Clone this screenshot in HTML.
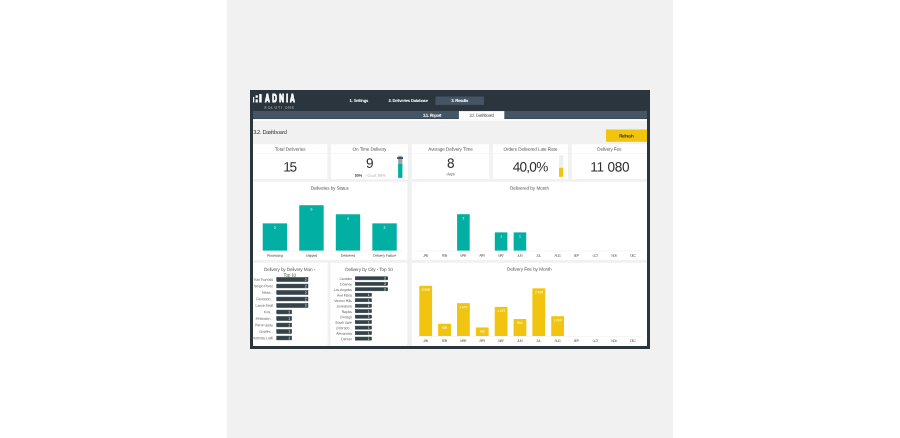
<!DOCTYPE html>
<html lang="en"><head><meta charset="utf-8"><title>Adnia Solutions - 3.2. Dashboard</title>
<style>
html,body{margin:0;padding:0;background:#fff;width:900px;height:438px;overflow:hidden}
svg{display:block;font-family:'Liberation Sans',sans-serif}
</style></head><body>
<svg width="900" height="438" viewBox="0 0 900 438" font-family="'Liberation Sans', sans-serif">
<rect x="227.00" y="0.00" width="446.00" height="438.00" fill="#f1f1f1" />
<rect x="250.00" y="90.00" width="400.00" height="259.00" fill="#2b353e" />
<rect x="253.00" y="110.90" width="394.00" height="8.20" fill="#455564" />
<rect x="253.00" y="119.10" width="394.00" height="226.90" fill="#f1f1f1" />
<rect x="253.00" y="118.10" width="394.00" height="1.00" fill="#384a5a" />
<rect x="253.00" y="119.10" width="394.00" height="1.70" fill="#fcfcfc" />
<rect x="253.00" y="96.90" width="1.20" height="5.60" fill="#fff" />
<rect x="255.60" y="95.30" width="2.20" height="2.50" fill="#fff" />
<rect x="255.60" y="99.40" width="2.20" height="3.10" fill="#fff" />
<rect x="259.20" y="94.00" width="2.50" height="8.50" fill="#fff" />
<text transform="translate(0 102) scale(0.62 1)" x="427.52 439.13 450.42 461.55 467.84" font-size="10.6" font-weight="bold" fill="#fff" stroke="#fff" stroke-width="1.0">ADNIA</text>
<text transform="translate(0 108.6) rotate(0.03)" x="264.30 267.71 271.12 274.53 277.94 281.35 284.76 288.17 291.58" font-size="3.5" fill="#c3c9ce">SOLUTIONS</text>
<text transform="translate(358.75 102.10) rotate(0.03)" font-size="4.25" fill="#fff" text-anchor="middle" font-weight="bold" letter-spacing="-0.299" word-spacing="0.299">1. Settings</text>
<text transform="translate(408.06 102.10) rotate(0.03)" font-size="4.25" fill="#fff" text-anchor="middle" font-weight="bold" letter-spacing="-0.278" word-spacing="0.278">2. Deliveries Database</text>
<rect x="435.40" y="96.50" width="48.60" height="8.40" fill="#455564" />
<text transform="translate(459.60 102.10) rotate(0.03)" font-size="4.25" fill="#fff" text-anchor="middle" font-weight="bold" letter-spacing="-0.397" word-spacing="0.397">3. Results</text>
<text transform="translate(431.99 116.70) rotate(0.03)" font-size="4.25" fill="#fff" text-anchor="middle" font-weight="bold" letter-spacing="-0.418" word-spacing="0.418">3.1. Report</text>
<rect x="458.90" y="111.10" width="45.40" height="8.30" fill="#fff" />
<text transform="translate(481.38 116.80) rotate(0.03)" font-size="4.4" fill="#444" text-anchor="middle" letter-spacing="-0.441" word-spacing="0.441">3.2. Dashboard</text>
<text transform="translate(253.20 134.00) rotate(0.03)" font-size="5.8" fill="#3a3a3a" text-anchor="start" letter-spacing="-0.488" word-spacing="0.488">3.2. Dashboard</text>
<rect x="606.00" y="129.50" width="41.00" height="12.30" fill="#f1c50f" />
<text transform="translate(626.30 137.50) rotate(0.03)" font-size="4.6" fill="#3a3a20" text-anchor="middle" font-weight="bold" letter-spacing="-0.400">Refresh</text>
<rect x="253.00" y="144.30" width="74.40" height="34.80" fill="#fff" />
<rect x="253.00" y="153.00" width="74.40" height="0.50" fill="#f1f1f1" />
<text transform="translate(290.16 150.75) rotate(0.03)" font-size="4.7" fill="#555" text-anchor="middle" letter-spacing="-0.076" word-spacing="0.076">Total Deliveries</text>
<rect x="331.00" y="144.30" width="77.00" height="34.80" fill="#fff" />
<rect x="331.00" y="153.00" width="77.00" height="0.50" fill="#f1f1f1" />
<text transform="translate(369.42 150.75) rotate(0.03)" font-size="4.7" fill="#555" text-anchor="middle" letter-spacing="-0.157" word-spacing="0.157">On Time Delivery</text>
<rect x="411.80" y="144.30" width="77.50" height="34.80" fill="#fff" />
<rect x="411.80" y="153.00" width="77.50" height="0.50" fill="#f1f1f1" />
<text transform="translate(450.48 150.75) rotate(0.03)" font-size="4.7" fill="#555" text-anchor="middle" letter-spacing="-0.139" word-spacing="0.139">Average Delivery Time</text>
<rect x="492.80" y="144.30" width="75.20" height="34.80" fill="#fff" />
<rect x="492.80" y="153.00" width="75.20" height="0.50" fill="#f1f1f1" />
<text transform="translate(530.33 150.75) rotate(0.03)" font-size="4.7" fill="#555" text-anchor="middle" letter-spacing="-0.146" word-spacing="0.146">Orders Delivered Late Rate</text>
<rect x="571.80" y="144.30" width="75.20" height="34.80" fill="#fff" />
<rect x="571.80" y="153.00" width="75.20" height="0.50" fill="#f1f1f1" />
<text transform="translate(609.30 150.75) rotate(0.03)" font-size="4.7" fill="#555" text-anchor="middle" letter-spacing="-0.208" word-spacing="0.208">Delivery Fee</text>
<text transform="translate(289.49 171.60) rotate(0.03)" font-size="13.6" fill="#2d2d2d" text-anchor="middle" letter-spacing="-1.427">15</text>
<text transform="translate(369.90 167.80) rotate(0.03)" font-size="13.6" fill="#2d2d2d" text-anchor="middle">9</text>
<text transform="translate(358.40 176.80) rotate(0.03)" font-size="3.9" fill="#444" text-anchor="middle" font-weight="bold" letter-spacing="-0.203">50%</text>
<text transform="translate(375.50 176.80) rotate(0.03)" font-size="3.9" fill="#ababab" text-anchor="middle" letter-spacing="-0.010" word-spacing="0.010">/ Goal: 90%</text>
<rect x="398.10" y="158.50" width="4.30" height="5.20" fill="#aaaaaa" />
<rect x="399.20" y="158.50" width="0.50" height="5.20" fill="#8e8e8e" />
<rect x="400.80" y="158.50" width="0.50" height="5.20" fill="#8e8e8e" />
<rect x="398.10" y="163.40" width="4.30" height="0.40" fill="#c9a9a9" />
<rect x="398.10" y="163.70" width="4.30" height="14.20" fill="#01b0a3" />
<rect x="398.30" y="155.50" width="3.80" height="1.40" fill="#cdcdcd" rx="0.5"/>
<rect x="397.00" y="156.70" width="6.20" height="2.40" fill="#44525f" rx="1.2"/>
<text transform="translate(450.80 167.80) rotate(0.03)" font-size="13.6" fill="#2d2d2d" text-anchor="middle">8</text>
<text transform="translate(450.69 175.20) rotate(0.03)" font-size="3.9" fill="#555" text-anchor="middle" letter-spacing="-0.013">days</text>
<text transform="translate(530.12 171.60) rotate(0.03)" font-size="13.6" fill="#2d2d2d" text-anchor="middle" letter-spacing="-0.766">40,0%</text>
<rect x="559.00" y="155.20" width="4.30" height="12.50" fill="#efefef" />
<rect x="559.00" y="167.70" width="4.30" height="9.10" fill="#f1c50f" />
<text transform="translate(609.64 171.60) rotate(0.03)" font-size="13.6" fill="#2d2d2d" text-anchor="middle" letter-spacing="-0.322" word-spacing="0.322">11 080</text>
<rect x="253.00" y="181.80" width="154.30" height="78.00" fill="#fff" />
<text transform="translate(329.70 189.80) rotate(0.03)" font-size="4.7" fill="#555" text-anchor="middle" letter-spacing="-0.202" word-spacing="0.202">Deliveries by Status</text>
<rect x="257.00" y="250.70" width="146.00" height="0.50" fill="#ebebeb" />
<rect x="262.70" y="223.36" width="24.40" height="27.24" fill="#01b0a3" />
<text transform="translate(274.90 228.76) rotate(0.03)" font-size="3.5" fill="#fff" text-anchor="middle">3</text>
<text transform="translate(274.80 256.80) rotate(0.03)" font-size="3.6" fill="#4c4c4c" text-anchor="middle" letter-spacing="-0.201">Processing</text>
<rect x="299.25" y="205.20" width="24.40" height="45.40" fill="#01b0a3" />
<text transform="translate(311.45 210.60) rotate(0.03)" font-size="3.5" fill="#fff" text-anchor="middle">5</text>
<text transform="translate(311.33 256.80) rotate(0.03)" font-size="3.6" fill="#4c4c4c" text-anchor="middle" letter-spacing="-0.235">Shipped</text>
<rect x="335.80" y="214.28" width="24.40" height="36.32" fill="#01b0a3" />
<text transform="translate(348.00 219.68) rotate(0.03)" font-size="3.5" fill="#fff" text-anchor="middle">4</text>
<text transform="translate(347.95 256.80) rotate(0.03)" font-size="3.6" fill="#4c4c4c" text-anchor="middle" letter-spacing="-0.101">Delivered</text>
<rect x="372.35" y="223.36" width="24.40" height="27.24" fill="#01b0a3" />
<text transform="translate(384.55 228.76) rotate(0.03)" font-size="3.5" fill="#fff" text-anchor="middle">3</text>
<text transform="translate(384.49 256.80) rotate(0.03)" font-size="3.6" fill="#4c4c4c" text-anchor="middle" letter-spacing="-0.122" word-spacing="0.122">Delivery Failure</text>
<rect x="411.80" y="181.80" width="235.20" height="78.00" fill="#fff" />
<text transform="translate(529.46 189.80) rotate(0.03)" font-size="4.7" fill="#555" text-anchor="middle" letter-spacing="-0.079" word-spacing="0.079">Delivered by Month</text>
<rect x="416.70" y="250.70" width="226.00" height="0.50" fill="#ebebeb" />
<text transform="translate(425.37 256.70) rotate(0.03)" font-size="3.5" fill="#626262" text-anchor="middle" letter-spacing="-0.661">JAN</text>
<text transform="translate(444.21 256.70) rotate(0.03)" font-size="3.5" fill="#626262" text-anchor="middle" letter-spacing="-0.681">FEB</text>
<text transform="translate(463.01 256.70) rotate(0.03)" font-size="3.5" fill="#626262" text-anchor="middle" letter-spacing="-0.778">MAR</text>
<rect x="457.10" y="214.20" width="12.60" height="36.40" fill="#01b0a3" />
<text transform="translate(463.40 219.30) rotate(0.03)" font-size="3.4" fill="#fff" text-anchor="middle">2</text>
<text transform="translate(481.89 256.70) rotate(0.03)" font-size="3.5" fill="#626262" text-anchor="middle" letter-spacing="-0.720">APR</text>
<text transform="translate(500.73 256.70) rotate(0.03)" font-size="3.5" fill="#626262" text-anchor="middle" letter-spacing="-0.732">MAY</text>
<rect x="494.80" y="232.40" width="12.60" height="18.20" fill="#01b0a3" />
<text transform="translate(501.10 237.50) rotate(0.03)" font-size="3.4" fill="#fff" text-anchor="middle">1</text>
<text transform="translate(519.61 256.70) rotate(0.03)" font-size="3.5" fill="#626262" text-anchor="middle" letter-spacing="-0.681">JUN</text>
<rect x="513.65" y="232.40" width="12.60" height="18.20" fill="#01b0a3" />
<text transform="translate(519.95 237.50) rotate(0.03)" font-size="3.4" fill="#fff" text-anchor="middle">1</text>
<text transform="translate(538.49 256.70) rotate(0.03)" font-size="3.5" fill="#626262" text-anchor="middle" letter-spacing="-0.622">JUL</text>
<text transform="translate(557.27 256.70) rotate(0.03)" font-size="3.5" fill="#626262" text-anchor="middle" letter-spacing="-0.758">AUG</text>
<text transform="translate(576.15 256.70) rotate(0.03)" font-size="3.5" fill="#626262" text-anchor="middle" letter-spacing="-0.700">SEP</text>
<text transform="translate(594.98 256.70) rotate(0.03)" font-size="3.5" fill="#626262" text-anchor="middle" letter-spacing="-0.739">OCT</text>
<text transform="translate(613.82 256.70) rotate(0.03)" font-size="3.5" fill="#626262" text-anchor="middle" letter-spacing="-0.758">NOV</text>
<text transform="translate(632.68 256.70) rotate(0.03)" font-size="3.5" fill="#626262" text-anchor="middle" letter-spacing="-0.739">DEC</text>
<rect x="253.00" y="262.80" width="74.50" height="82.90" fill="#fff" />
<text transform="translate(289.52 271.00) rotate(0.03)" font-size="4.7" fill="#555" text-anchor="middle" letter-spacing="-0.164" word-spacing="0.164">Delivery by Delivery Man -</text>
<text transform="translate(289.61 276.70) rotate(0.03)" font-size="4.7" fill="#555" text-anchor="middle" letter-spacing="-0.378" word-spacing="0.378">Top 10</text>
<rect x="276.80" y="277.65" width="31.10" height="3.70" fill="#33434a" stroke="#263238" stroke-width="0.6"/>
<text transform="translate(305.60 280.75) rotate(0.03)" font-size="3.5" fill="#fff" text-anchor="middle">2</text>
<text transform="translate(272.88 280.80) rotate(0.03)" font-size="3.5" fill="#606060" text-anchor="end" letter-spacing="-0.125" word-spacing="0.125">Yuki Tsunoda</text>
<rect x="276.80" y="284.15" width="31.10" height="3.70" fill="#33434a" stroke="#263238" stroke-width="0.6"/>
<text transform="translate(305.60 287.25) rotate(0.03)" font-size="3.5" fill="#fff" text-anchor="middle">2</text>
<text transform="translate(272.88 287.30) rotate(0.03)" font-size="3.5" fill="#606060" text-anchor="end" letter-spacing="-0.121" word-spacing="0.121">Sergio Perez</text>
<rect x="276.80" y="290.65" width="31.10" height="3.70" fill="#33434a" stroke="#263238" stroke-width="0.6"/>
<text transform="translate(305.60 293.75) rotate(0.03)" font-size="3.5" fill="#fff" text-anchor="middle">2</text>
<text transform="translate(272.91 293.80) rotate(0.03)" font-size="3.5" fill="#606060" text-anchor="end" letter-spacing="-0.088">Nikita...</text>
<rect x="276.80" y="297.15" width="31.10" height="3.70" fill="#33434a" stroke="#263238" stroke-width="0.6"/>
<text transform="translate(305.60 300.25) rotate(0.03)" font-size="3.5" fill="#fff" text-anchor="middle">2</text>
<text transform="translate(272.89 300.30) rotate(0.03)" font-size="3.5" fill="#606060" text-anchor="end" letter-spacing="-0.107">Fernando...</text>
<rect x="276.80" y="303.65" width="31.10" height="3.70" fill="#33434a" stroke="#263238" stroke-width="0.6"/>
<text transform="translate(305.60 306.75) rotate(0.03)" font-size="3.5" fill="#fff" text-anchor="middle">2</text>
<text transform="translate(272.89 306.80) rotate(0.03)" font-size="3.5" fill="#606060" text-anchor="end" letter-spacing="-0.111" word-spacing="0.111">Lance Stroll</text>
<rect x="276.80" y="310.15" width="14.70" height="3.70" fill="#33434a" stroke="#263238" stroke-width="0.6"/>
<text transform="translate(289.20 313.25) rotate(0.03)" font-size="3.5" fill="#fff" text-anchor="middle">1</text>
<text transform="translate(272.90 313.30) rotate(0.03)" font-size="3.5" fill="#606060" text-anchor="end" letter-spacing="-0.097">Kimi...</text>
<rect x="276.80" y="316.65" width="14.70" height="3.70" fill="#33434a" stroke="#263238" stroke-width="0.6"/>
<text transform="translate(289.20 319.75) rotate(0.03)" font-size="3.5" fill="#fff" text-anchor="middle">1</text>
<text transform="translate(272.90 319.80) rotate(0.03)" font-size="3.5" fill="#606060" text-anchor="end" letter-spacing="-0.101">Sebastian...</text>
<rect x="276.80" y="323.15" width="14.70" height="3.70" fill="#33434a" stroke="#263238" stroke-width="0.6"/>
<text transform="translate(289.20 326.25) rotate(0.03)" font-size="3.5" fill="#fff" text-anchor="middle">1</text>
<text transform="translate(272.88 326.30) rotate(0.03)" font-size="3.5" fill="#606060" text-anchor="end" letter-spacing="-0.116" word-spacing="0.116">Pierre Gasly</text>
<rect x="276.80" y="329.65" width="14.70" height="3.70" fill="#33434a" stroke="#263238" stroke-width="0.6"/>
<text transform="translate(289.20 332.75) rotate(0.03)" font-size="3.5" fill="#fff" text-anchor="middle">1</text>
<text transform="translate(272.90 332.80) rotate(0.03)" font-size="3.5" fill="#606060" text-anchor="end" letter-spacing="-0.100">Charles...</text>
<rect x="276.80" y="336.15" width="14.70" height="3.70" fill="#33434a" stroke="#263238" stroke-width="0.6"/>
<text transform="translate(289.20 339.25) rotate(0.03)" font-size="3.5" fill="#fff" text-anchor="middle">1</text>
<text transform="translate(272.90 339.30) rotate(0.03)" font-size="3.5" fill="#606060" text-anchor="end" letter-spacing="-0.101" word-spacing="0.101">Nicholas Latifi</text>
<rect x="330.50" y="262.80" width="76.80" height="82.90" fill="#fff" />
<text transform="translate(368.91 271.00) rotate(0.03)" font-size="4.7" fill="#555" text-anchor="middle" letter-spacing="-0.171" word-spacing="0.171">Delivery by City - Top 10</text>
<rect x="355.40" y="276.80" width="32.30" height="3.00" fill="#33434a" stroke="#263238" stroke-width="0.6"/>
<text transform="translate(385.00 279.50) rotate(0.03)" font-size="3.4" fill="#fff" text-anchor="middle">2</text>
<text transform="translate(351.87 280.00) rotate(0.03)" font-size="3.5" fill="#606060" text-anchor="end" letter-spacing="-0.132">Camden</text>
<rect x="355.40" y="282.28" width="32.30" height="3.00" fill="#33434a" stroke="#263238" stroke-width="0.6"/>
<text transform="translate(385.00 284.98) rotate(0.03)" font-size="3.4" fill="#fff" text-anchor="middle">2</text>
<text transform="translate(351.87 285.48) rotate(0.03)" font-size="3.5" fill="#606060" text-anchor="end" letter-spacing="-0.126">Downey</text>
<rect x="355.40" y="287.76" width="32.30" height="3.00" fill="#33434a" stroke="#263238" stroke-width="0.6"/>
<text transform="translate(385.00 290.46) rotate(0.03)" font-size="3.4" fill="#fff" text-anchor="middle">2</text>
<text transform="translate(351.89 290.96) rotate(0.03)" font-size="3.5" fill="#606060" text-anchor="end" letter-spacing="-0.106" word-spacing="0.106">Los Angeles</text>
<rect x="355.40" y="293.24" width="15.90" height="3.00" fill="#33434a" stroke="#263238" stroke-width="0.6"/>
<text transform="translate(368.60 295.94) rotate(0.03)" font-size="3.4" fill="#fff" text-anchor="middle">1</text>
<text transform="translate(351.89 296.44) rotate(0.03)" font-size="3.5" fill="#606060" text-anchor="end" letter-spacing="-0.112" word-spacing="0.112">Ave Maria</text>
<rect x="355.40" y="298.72" width="15.90" height="3.00" fill="#33434a" stroke="#263238" stroke-width="0.6"/>
<text transform="translate(368.60 301.42) rotate(0.03)" font-size="3.4" fill="#fff" text-anchor="middle">1</text>
<text transform="translate(351.91 301.92) rotate(0.03)" font-size="3.5" fill="#606060" text-anchor="end" letter-spacing="-0.093" word-spacing="0.093">Vernon Hills</text>
<rect x="355.40" y="304.20" width="15.90" height="3.00" fill="#33434a" stroke="#263238" stroke-width="0.6"/>
<text transform="translate(368.60 306.90) rotate(0.03)" font-size="3.4" fill="#fff" text-anchor="middle">1</text>
<text transform="translate(351.90 307.40) rotate(0.03)" font-size="3.5" fill="#606060" text-anchor="end" letter-spacing="-0.102">Jonesboro</text>
<rect x="355.40" y="309.68" width="15.90" height="3.00" fill="#33434a" stroke="#263238" stroke-width="0.6"/>
<text transform="translate(368.60 312.38) rotate(0.03)" font-size="3.4" fill="#fff" text-anchor="middle">1</text>
<text transform="translate(351.89 312.88) rotate(0.03)" font-size="3.5" fill="#606060" text-anchor="end" letter-spacing="-0.109">Naples</text>
<rect x="355.40" y="315.16" width="15.90" height="3.00" fill="#33434a" stroke="#263238" stroke-width="0.6"/>
<text transform="translate(368.60 317.86) rotate(0.03)" font-size="3.4" fill="#fff" text-anchor="middle">1</text>
<text transform="translate(351.89 318.36) rotate(0.03)" font-size="3.5" fill="#606060" text-anchor="end" letter-spacing="-0.107">Chicago</text>
<rect x="355.40" y="320.64" width="15.90" height="3.00" fill="#33434a" stroke="#263238" stroke-width="0.6"/>
<text transform="translate(368.60 323.34) rotate(0.03)" font-size="3.4" fill="#fff" text-anchor="middle">1</text>
<text transform="translate(351.89 323.84) rotate(0.03)" font-size="3.5" fill="#606060" text-anchor="end" letter-spacing="-0.111" word-spacing="0.111">South Gate</text>
<rect x="355.40" y="326.12" width="15.90" height="3.00" fill="#33434a" stroke="#263238" stroke-width="0.6"/>
<text transform="translate(368.60 328.82) rotate(0.03)" font-size="3.4" fill="#fff" text-anchor="middle">1</text>
<text transform="translate(351.91 329.32) rotate(0.03)" font-size="3.5" fill="#606060" text-anchor="end" letter-spacing="-0.086">Colorado...</text>
<rect x="355.40" y="331.60" width="15.90" height="3.00" fill="#33434a" stroke="#263238" stroke-width="0.6"/>
<text transform="translate(368.60 334.30) rotate(0.03)" font-size="3.4" fill="#fff" text-anchor="middle">1</text>
<text transform="translate(351.91 334.80) rotate(0.03)" font-size="3.5" fill="#606060" text-anchor="end" letter-spacing="-0.092">Alexandria</text>
<rect x="355.40" y="337.08" width="15.90" height="3.00" fill="#33434a" stroke="#263238" stroke-width="0.6"/>
<text transform="translate(368.60 339.78) rotate(0.03)" font-size="3.4" fill="#fff" text-anchor="middle">1</text>
<text transform="translate(351.89 340.28) rotate(0.03)" font-size="3.5" fill="#606060" text-anchor="end" letter-spacing="-0.113">Denver</text>
<rect x="411.80" y="262.80" width="235.20" height="82.90" fill="#fff" />
<text transform="translate(529.23 270.80) rotate(0.03)" font-size="4.7" fill="#555" text-anchor="middle" letter-spacing="-0.131" word-spacing="0.131">Delivery Fee by Month</text>
<rect x="416.70" y="336.10" width="226.00" height="0.50" fill="#ebebeb" />
<text transform="translate(425.37 342.10) rotate(0.03)" font-size="3.5" fill="#626262" text-anchor="middle" letter-spacing="-0.661">JAN</text>
<rect x="419.30" y="285.80" width="12.80" height="50.20" fill="#f1c50f" />
<text transform="translate(425.63 290.80) rotate(0.03)" font-size="3.3" fill="#fff" text-anchor="middle" letter-spacing="-0.138" word-spacing="0.138">2 558</text>
<text transform="translate(444.21 342.10) rotate(0.03)" font-size="3.5" fill="#626262" text-anchor="middle" letter-spacing="-0.681">FEB</text>
<rect x="438.15" y="323.71" width="12.80" height="12.29" fill="#f1c50f" />
<text transform="translate(444.48 328.71) rotate(0.03)" font-size="3.3" fill="#fff" text-anchor="middle" letter-spacing="-0.138">626</text>
<text transform="translate(463.01 342.10) rotate(0.03)" font-size="3.5" fill="#626262" text-anchor="middle" letter-spacing="-0.778">MAR</text>
<rect x="457.00" y="303.13" width="12.80" height="32.87" fill="#f1c50f" />
<text transform="translate(463.33 308.13) rotate(0.03)" font-size="3.3" fill="#fff" text-anchor="middle" letter-spacing="-0.138" word-spacing="0.138">1 675</text>
<text transform="translate(481.89 342.10) rotate(0.03)" font-size="3.5" fill="#626262" text-anchor="middle" letter-spacing="-0.720">APR</text>
<rect x="475.85" y="327.46" width="12.80" height="8.54" fill="#f1c50f" />
<text transform="translate(482.18 332.46) rotate(0.03)" font-size="3.3" fill="#fff" text-anchor="middle" letter-spacing="-0.138">435</text>
<text transform="translate(500.73 342.10) rotate(0.03)" font-size="3.5" fill="#626262" text-anchor="middle" letter-spacing="-0.732">MAY</text>
<rect x="494.70" y="306.90" width="12.80" height="29.10" fill="#f1c50f" />
<text transform="translate(501.03 311.90) rotate(0.03)" font-size="3.3" fill="#fff" text-anchor="middle" letter-spacing="-0.138" word-spacing="0.138">1 473</text>
<text transform="translate(519.61 342.10) rotate(0.03)" font-size="3.5" fill="#626262" text-anchor="middle" letter-spacing="-0.681">JUN</text>
<rect x="513.55" y="319.02" width="12.80" height="16.98" fill="#f1c50f" />
<text transform="translate(519.88 324.02) rotate(0.03)" font-size="3.3" fill="#fff" text-anchor="middle" letter-spacing="-0.138">865</text>
<text transform="translate(538.49 342.10) rotate(0.03)" font-size="3.5" fill="#626262" text-anchor="middle" letter-spacing="-0.622">JUL</text>
<rect x="532.40" y="288.35" width="12.80" height="47.65" fill="#f1c50f" />
<text transform="translate(538.73 293.35) rotate(0.03)" font-size="3.3" fill="#fff" text-anchor="middle" letter-spacing="-0.138" word-spacing="0.138">2 428</text>
<text transform="translate(557.27 342.10) rotate(0.03)" font-size="3.5" fill="#626262" text-anchor="middle" letter-spacing="-0.758">AUG</text>
<rect x="551.25" y="316.22" width="12.80" height="19.78" fill="#f1c50f" />
<text transform="translate(557.58 321.22) rotate(0.03)" font-size="3.3" fill="#fff" text-anchor="middle" letter-spacing="-0.138" word-spacing="0.138">1 008</text>
<text transform="translate(576.15 342.10) rotate(0.03)" font-size="3.5" fill="#626262" text-anchor="middle" letter-spacing="-0.700">SEP</text>
<text transform="translate(594.98 342.10) rotate(0.03)" font-size="3.5" fill="#626262" text-anchor="middle" letter-spacing="-0.739">OCT</text>
<text transform="translate(613.82 342.10) rotate(0.03)" font-size="3.5" fill="#626262" text-anchor="middle" letter-spacing="-0.758">NOV</text>
<text transform="translate(632.68 342.10) rotate(0.03)" font-size="3.5" fill="#626262" text-anchor="middle" letter-spacing="-0.739">DEC</text>
</svg>
</body></html>
